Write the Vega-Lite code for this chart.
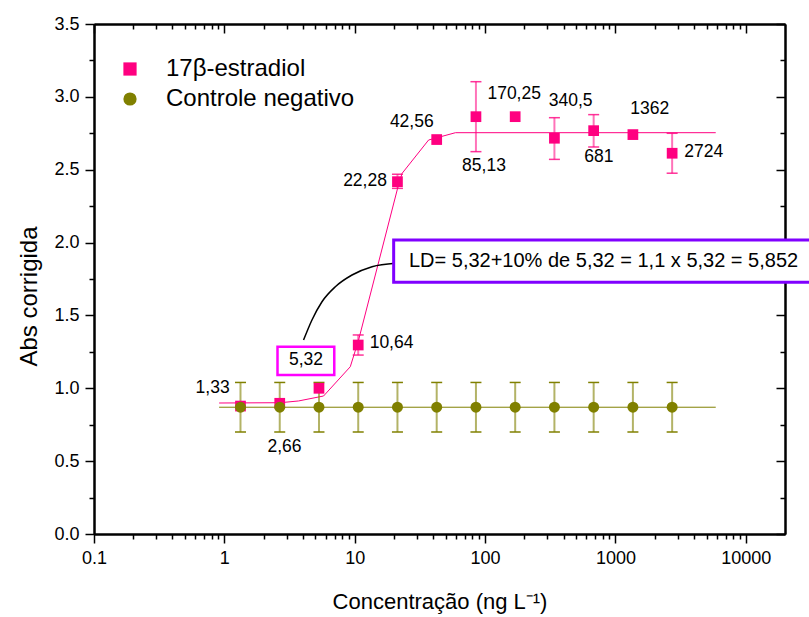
{
  "$schema": "https://vega.github.io/schema/vega-lite/v6.json",
  "width": 691,
  "height": 510,
  "autosize": {"type": "none"},
  "padding": {"left": 94, "top": 24, "right": 24, "bottom": 83},
  "background": "white",
  "config": {
    "view": {"stroke": null},
    "font": "Liberation Sans",
    "axis": {
      "grid": false,
      "domainColor": "black",
      "domainWidth": 2,
      "tickColor": "black",
      "tickWidth": 1.5,
      "labelFont": "Liberation Sans",
      "labelFontSize": 18,
      "labelColor": "black",
      "titleFont": "Liberation Sans",
      "titleFontSize": 22,
      "titleFontWeight": "normal",
      "titleColor": "black"
    },
    "legend": {
      "labelFont": "Liberation Sans",
      "labelFontSize": 24,
      "labelColor": "black",
      "labelLimit": 0
    }
  },
  "datasets": {
    "e2": [
      {"x": 1.33, "y": 0.878, "s": "17β-estradiol"},
      {"x": 2.66, "y": 0.897, "s": "17β-estradiol"},
      {"x": 5.32, "y": 1.0, "s": "17β-estradiol"},
      {"x": 10.64, "y": 1.297, "s": "17β-estradiol"},
      {"x": 21.28, "y": 2.418, "s": "17β-estradiol"},
      {"x": 42.56, "y": 2.707, "s": "17β-estradiol"},
      {"x": 85.13, "y": 2.864, "s": "17β-estradiol"},
      {"x": 170.25, "y": 2.864, "s": "17β-estradiol"},
      {"x": 340.5, "y": 2.716, "s": "17β-estradiol"},
      {"x": 681, "y": 2.768, "s": "17β-estradiol"},
      {"x": 1362, "y": 2.741, "s": "17β-estradiol"},
      {"x": 2724, "y": 2.613, "s": "17β-estradiol"}
    ],
    "e2err": [
      {"x": 10.64, "lo": 1.228, "hi": 1.366},
      {"x": 21.28, "lo": 2.372, "hi": 2.469},
      {"x": 85.13, "lo": 2.624, "hi": 3.104},
      {"x": 340.5, "lo": 2.571, "hi": 2.857},
      {"x": 681, "lo": 2.656, "hi": 2.878},
      {"x": 2724, "lo": 2.476, "hi": 2.75}
    ],
    "ctrl": [
      {"x": 1.33, "y": 0.87, "lo": 0.70, "hi": 1.04, "s": "Controle negativo"},
      {"x": 2.66, "y": 0.87, "lo": 0.70, "hi": 1.04, "s": "Controle negativo"},
      {"x": 5.32, "y": 0.87, "lo": 0.70, "hi": 1.04, "s": "Controle negativo"},
      {"x": 10.64, "y": 0.87, "lo": 0.70, "hi": 1.04, "s": "Controle negativo"},
      {"x": 21.28, "y": 0.87, "lo": 0.70, "hi": 1.04, "s": "Controle negativo"},
      {"x": 42.56, "y": 0.87, "lo": 0.70, "hi": 1.04, "s": "Controle negativo"},
      {"x": 85.13, "y": 0.87, "lo": 0.70, "hi": 1.04, "s": "Controle negativo"},
      {"x": 170.25, "y": 0.87, "lo": 0.70, "hi": 1.04, "s": "Controle negativo"},
      {"x": 340.5, "y": 0.87, "lo": 0.70, "hi": 1.04, "s": "Controle negativo"},
      {"x": 681, "y": 0.87, "lo": 0.70, "hi": 1.04, "s": "Controle negativo"},
      {"x": 1362, "y": 0.87, "lo": 0.70, "hi": 1.04, "s": "Controle negativo"},
      {"x": 2724, "y": 0.87, "lo": 0.70, "hi": 1.04, "s": "Controle negativo"}
    ],
    "fit": [
      {"x": 0.912, "y": 0.899},
      {"x": 2.68, "y": 0.901},
      {"x": 3.71, "y": 0.913},
      {"x": 5.77, "y": 0.947},
      {"x": 9.25, "y": 1.148},
      {"x": 10.71, "y": 1.331},
      {"x": 21.5, "y": 2.384},
      {"x": 23.1, "y": 2.475},
      {"x": 36.9, "y": 2.704},
      {"x": 59.3, "y": 2.754},
      {"x": 5885, "y": 2.754}
    ],
    "ctrlfit": [
      {"x": 0.912, "y": 0.87},
      {"x": 5885, "y": 0.87}
    ],
    "conn": [
      {"x": 4.05, "y": 1.331},
      {"x": 4.70, "y": 1.469},
      {"x": 5.61, "y": 1.594},
      {"x": 7.10, "y": 1.697},
      {"x": 9.535, "y": 1.7775},
      {"x": 13.58, "y": 1.8345},
      {"x": 20.5, "y": 1.858}
    ],
    "labels": [
      {"x": 0.813, "y": 1.0, "t": "1,33"},
      {"x": 2.89, "y": 0.599, "t": "2,66"},
      {"x": 19.17, "y": 1.313, "t": "10,64"},
      {"x": 12.0, "y": 2.4226, "t": "22,28"},
      {"x": 27.4, "y": 2.83, "t": "42,56"},
      {"x": 98.1, "y": 2.528, "t": "85,13"},
      {"x": 167.3, "y": 3.02, "t": "170,25"},
      {"x": 453, "y": 2.974, "t": "340,5"},
      {"x": 745.6, "y": 2.589, "t": "681"},
      {"x": 1837, "y": 2.919, "t": "1362"},
      {"x": 4758, "y": 2.622, "t": "2724"},
      {"x": 4.227, "y": 1.192, "t": "5,32"}
    ],
    "box532": [{"x": 2.557, "x2": 6.97, "y": 1.0912, "y2": 1.2855}],
    "boxLD": [{"x": 19.9, "x2": 40000, "y": 1.7274, "y2": 2.0177, "t": "LD= 5,32+10% de 5,32 = 1,1 x 5,32 = 5,852", "tx": 811, "ty": 1.8757}]
  },
  "layer": [
    {
      "data": {"name": "ctrlfit"},
      "mark": {"type": "line", "color": "#808000", "strokeWidth": 1},
      "encoding": {
        "x": {"field": "x", "type": "quantitative",
          "scale": {"type": "log", "domain": [0.1, 20000], "nice": false},
          "axis": {"orient": "bottom", "values": [0.1, 1, 10, 100, 1000, 10000], "format": "~g",
            "title": "Concentração (ng L⁻¹)", "tickSize": 9, "labelPadding": 6, "titlePadding": 24, "labelFlush": false, "labelOverlap": false}},
        "y": {"field": "y", "type": "quantitative",
          "scale": {"domain": [0, 3.5], "nice": false, "zero": false},
          "axis": {"orient": "left", "values": [0, 0.5, 1, 1.5, 2, 2.5, 3, 3.5], "format": ".1f",
            "title": "Abs corrigida", "titleFontSize": 24, "titleY": 272, "tickSize": 9, "labelPadding": 6, "titlePadding": 12, "labelFlush": false, "labelOverlap": false}}
      }
    },
    {
      "data": {"name": "fit"},
      "mark": {"type": "line", "color": "#ff0080", "strokeWidth": 1},
      "encoding": {
        "x": {"field": "x", "type": "quantitative",
          "axis": {"orient": "bottom", "values": [0.2,0.3,0.4,0.5,0.6,0.7,0.8,0.9,2,3,4,5,6,7,8,9,20,30,40,50,60,70,80,90,200,300,400,500,600,700,800,900,2000,3000,4000,5000,6000,7000,8000,9000],
            "labels": false, "title": null, "tickSize": 5}},
        "y": {"field": "y", "type": "quantitative",
          "axis": {"orient": "left", "values": [0.25, 0.75, 1.25, 1.75, 2.25, 2.75, 3.25], "labels": false, "title": null, "tickSize": 5}}
      }
    },
    {
      "data": {"name": "ctrl"},
      "mark": {"type": "rule", "color": "#808000", "opacity": 0.6, "strokeWidth": 2},
      "encoding": {
        "x": {"field": "x", "type": "quantitative",
          "axis": {"orient": "top", "values": [0.1, 1, 10, 100, 1000, 10000], "labels": false, "title": null, "tickSize": -9}},
        "y": {"field": "lo", "type": "quantitative",
          "axis": {"orient": "right", "values": [0, 0.5, 1, 1.5, 2, 2.5, 3, 3.5], "labels": false, "title": null, "tickSize": -9}},
        "y2": {"field": "hi"}
      }
    },
    {
      "data": {"name": "ctrl"},
      "mark": {"type": "tick", "orient": "horizontal", "color": "#808000", "size": 11, "thickness": 1.5, "opacity": 1},
      "encoding": {
        "x": {"field": "x", "type": "quantitative",
          "axis": {"orient": "top", "values": [0.2,0.3,0.4,0.5,0.6,0.7,0.8,0.9,2,3,4,5,6,7,8,9,20,30,40,50,60,70,80,90,200,300,400,500,600,700,800,900,2000,3000,4000,5000,6000,7000,8000,9000],
            "labels": false, "title": null, "tickSize": -5}},
        "y": {"field": "lo", "type": "quantitative",
          "axis": {"orient": "right", "values": [0.25, 0.75, 1.25, 1.75, 2.25, 2.75, 3.25], "labels": false, "title": null, "tickSize": -5}}
      }
    },
    {
      "data": {"name": "ctrl"},
      "mark": {"type": "tick", "orient": "horizontal", "color": "#808000", "size": 11, "thickness": 1.5, "opacity": 1},
      "encoding": {
        "x": {"field": "x", "type": "quantitative", "axis": null},
        "y": {"field": "hi", "type": "quantitative", "axis": null}
      }
    },
    {
      "data": {"name": "e2err"},
      "mark": {"type": "rule", "color": "#ff0080", "opacity": 0.55, "strokeWidth": 2},
      "encoding": {
        "x": {"field": "x", "type": "quantitative", "axis": null},
        "y": {"field": "lo", "type": "quantitative", "axis": null},
        "y2": {"field": "hi"}
      }
    },
    {
      "data": {"name": "e2err"},
      "mark": {"type": "tick", "orient": "horizontal", "color": "#ff0080", "opacity": 0.8, "size": 11, "thickness": 1.5},
      "encoding": {
        "x": {"field": "x", "type": "quantitative", "axis": null},
        "y": {"field": "lo", "type": "quantitative", "axis": null}
      }
    },
    {
      "data": {"name": "e2err"},
      "mark": {"type": "tick", "orient": "horizontal", "color": "#ff0080", "opacity": 0.8, "size": 11, "thickness": 1.5},
      "encoding": {
        "x": {"field": "x", "type": "quantitative", "axis": null},
        "y": {"field": "hi", "type": "quantitative", "axis": null}
      }
    },
    {
      "data": {"name": "e2"},
      "mark": {"type": "point", "filled": true, "size": 115, "opacity": 1},
      "encoding": {
        "x": {"field": "x", "type": "quantitative", "axis": null},
        "y": {"field": "y", "type": "quantitative", "axis": null},
        "color": {"field": "s", "type": "nominal",
          "scale": {"domain": ["17β-estradiol", "Controle negativo"], "range": ["#ff0080", "#808000"]},
          "legend": {"title": null, "orient": "none", "legendX": 24, "legendY": 33, "padding": 0,
            "symbolSize": 175, "symbolOpacity": 1, "symbolStrokeWidth": 0, "labelOffset": 24, "rowPadding": 6, "labelLimit": 0}},
        "shape": {"field": "s", "type": "nominal",
          "scale": {"domain": ["17β-estradiol", "Controle negativo"], "range": ["square", "circle"]},
          "legend": {"title": null, "orient": "none", "legendX": 24, "legendY": 33, "padding": 0,
            "symbolSize": 175, "symbolOpacity": 1, "symbolStrokeWidth": 0, "labelOffset": 24, "rowPadding": 6, "labelLimit": 0}}
      }
    },
    {
      "data": {"name": "ctrl"},
      "mark": {"type": "point", "filled": true, "size": 121, "opacity": 1},
      "encoding": {
        "x": {"field": "x", "type": "quantitative", "axis": null},
        "y": {"field": "y", "type": "quantitative", "axis": null},
        "color": {"field": "s", "type": "nominal"},
        "shape": {"field": "s", "type": "nominal"}
      }
    },
    {
      "data": {"name": "conn"},
      "mark": {"type": "line", "color": "black", "strokeWidth": 1.5, "interpolate": "monotone"},
      "encoding": {
        "x": {"field": "x", "type": "quantitative", "axis": null},
        "y": {"field": "y", "type": "quantitative", "axis": null}
      }
    },
    {
      "data": {"name": "box532"},
      "mark": {"type": "rect", "fill": "white", "stroke": "#ff00ff", "strokeWidth": 2.5},
      "encoding": {
        "x": {"field": "x", "type": "quantitative", "axis": null},
        "x2": {"field": "x2"},
        "y": {"field": "y", "type": "quantitative", "axis": null},
        "y2": {"field": "y2"}
      }
    },
    {
      "data": {"name": "boxLD"},
      "mark": {"type": "rect", "fill": "white", "stroke": "#8000ff", "strokeWidth": 3},
      "encoding": {
        "x": {"field": "x", "type": "quantitative", "axis": null},
        "x2": {"field": "x2"},
        "y": {"field": "y", "type": "quantitative", "axis": null},
        "y2": {"field": "y2"}
      }
    },
    {
      "data": {"name": "boxLD"},
      "mark": {"type": "text", "fontSize": 20, "font": "Liberation Sans", "color": "black", "align": "center", "baseline": "middle"},
      "encoding": {
        "x": {"field": "tx", "type": "quantitative", "axis": null},
        "y": {"field": "ty", "type": "quantitative", "axis": null},
        "text": {"field": "t"}
      }
    },
    {
      "data": {"name": "labels"},
      "mark": {"type": "text", "fontSize": 17.5, "font": "Liberation Sans", "color": "black", "align": "center", "baseline": "middle"},
      "encoding": {
        "x": {"field": "x", "type": "quantitative", "axis": null},
        "y": {"field": "y", "type": "quantitative", "axis": null},
        "text": {"field": "t"}
      }
    }
  ],
  "resolve": {"axis": {"x": "independent", "y": "independent"}}
}
